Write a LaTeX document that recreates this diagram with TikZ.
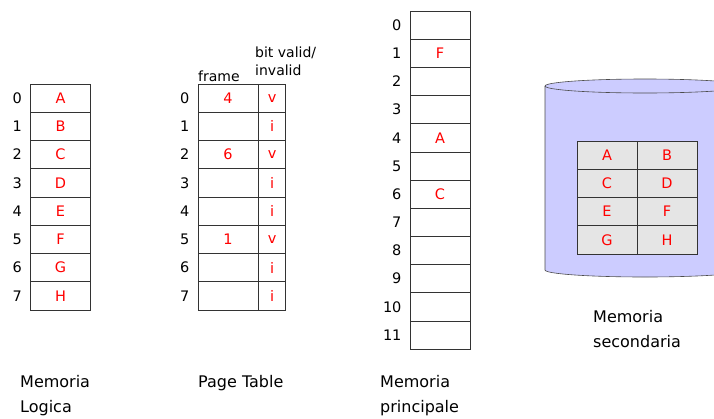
\documentclass[tikz,border=0pt]{standalone}
\usepackage{fontspec}
\setmainfont{DejaVu Sans}
\usetikzlibrary{positioning}
\definecolor{diskfill}{RGB}{204,204,255}
\begin{document}
\begin{tikzpicture}[x=1pt,y=-1pt,
    cell/.style={draw=black!80,line width=0.7pt,minimum width=60pt,minimum height=28.2pt,
      inner sep=0pt,text=red,font=\fontsize{14.5}{14}\selectfont},
    bitcell/.style={cell,minimum width=27pt},
    diskcell/.style={cell,fill=gray!20},
    idx/.style={inner sep=0pt,font=\fontsize{14.5}{14}\selectfont},
    lbl/.style={align=left,inner sep=0pt,font=\fontsize{16}{25}\selectfont}]
  \useasboundingbox (0,0) rectangle (714,418);
  % memoria logica
  \foreach \l [count=\i from 0] in {A,B,C,D,E,F,G,H}{
    \node[cell] (ml\i) at (60.5,{98.1+28.25*\i}) {\l};
    \node[idx,left=8pt of ml\i] (mln\i) {\i};
  }
  % page table
  \foreach \f/\b [count=\i from 0] in {4/v,/i,6/v,/i,/i,1/v,/i,/i}{
    \node[cell] (pf\i) at (228,{98.1+28.25*\i}) {\f};
    \node[bitcell,right=0pt of pf\i] (pb\i) {\b};
    \node[idx,left=8pt of pf\i] (ptn\i) {\i};
  }
  \node[idx,anchor=base west,font=\fontsize{14}{14}\selectfont] (frame) at (198,81) {frame};
  \node[idx,anchor=base west,align=left,font=\fontsize{14}{18}\selectfont] (bit) at (255,75) {bit valid/\\invalid};
  % memoria principale
  \foreach \c [count=\i from 0] in {,F,,,A,,C,,,,,}{
    \node[cell] (mp\i) at (440,{25.1+28.17*\i}) {\c};
    \node[idx,left=8pt of mp\i] (mpn\i) {\i};
  }
  % memoria secondaria
  \fill[diskfill] (545,86) rectangle (745,270);
  \fill[diskfill] (645,270) ellipse[x radius=100,y radius=7];
  \draw[black!70,line width=0.6pt] (545,86) -- (545,270) arc[start angle=180,end angle=0,x radius=100,y radius=7];
  \filldraw[fill=diskfill,draw=black!70,line width=0.6pt] (645,86) ellipse[x radius=100,y radius=7];
  \foreach \a/\b [count=\i from 0] in {A/B,C/D,E/F,G/H}{
    \node[diskcell] (ms\i a) at (607,{155.1+28.25*\i}) {\a};
    \node[diskcell] (ms\i b) at (667,{155.1+28.25*\i}) {\b};
  }
  \node[lbl,anchor=base west] (lsec) at (593,347) {Memoria\\secondaria};
  \node[lbl,anchor=base west] (llog) at (20,412) {Memoria\\Logica};
  \node[lbl,anchor=base west] (lpt) at (198,387) {Page Table};
  \node[lbl,anchor=base west] (lpri) at (380,412) {Memoria\\principale};
\end{tikzpicture}
\end{document}
